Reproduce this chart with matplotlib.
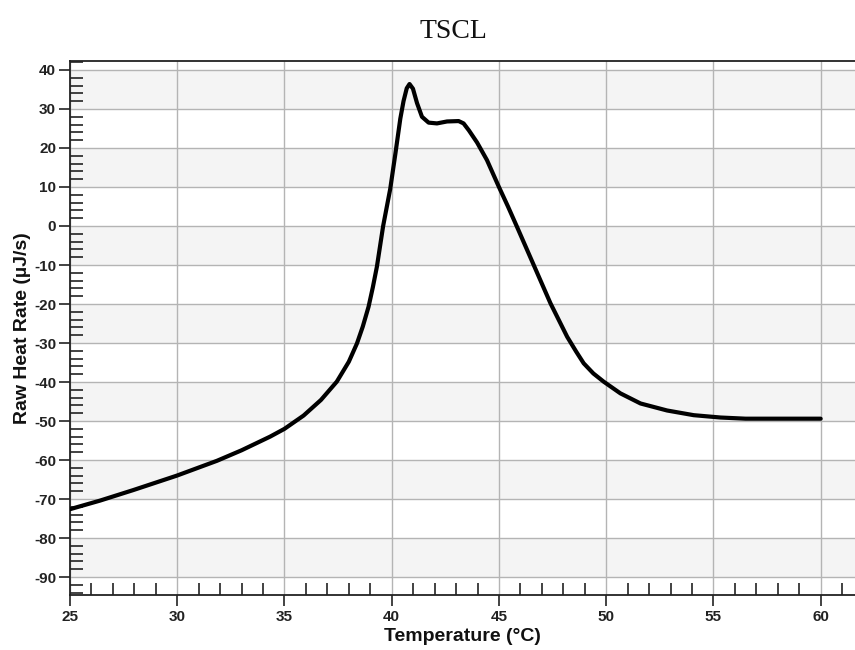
import matplotlib.pyplot as plt
from matplotlib.ticker import MultipleLocator

plt.rcParams["axes.unicode_minus"] = False

# temperature (°C) and raw heat rate (µJ/s)
temperature = [25.0, 26.4, 27.95, 29.98, 31.85, 33.0, 34.33, 35.0, 35.89, 36.7,
               37.44, 38.0, 38.38, 38.65, 38.92, 39.12, 39.31, 39.6, 39.93, 40.17,
               40.40, 40.55, 40.70, 40.83, 40.99, 41.18, 41.41, 41.72, 42.11, 42.58,
               43.12, 43.35, 43.6, 43.98, 44.44, 44.99, 45.42, 45.84, 46.62, 47.40,
               48.18, 48.6, 48.95, 49.4, 49.88, 50.66, 51.60, 52.84, 54.08, 55.33,
               56.5, 60.0]
heat_rate = [-72.6, -70.4, -67.7, -64.0, -60.2, -57.5, -54.0, -52.0, -48.6, -44.6,
             -39.9, -34.8, -30.1, -25.8, -20.7, -15.7, -10.4, 0.0, 9.5, 18.5,
             27.5, 32.0, 35.3, 36.4, 35.2, 31.5, 28.0, 26.5, 26.3, 26.8,
             26.9, 26.3, 24.5, 21.4, 16.9, 10.1, 5.0, -0.2, -10.0, -19.8,
             -28.4, -32.2, -35.2, -37.8, -39.9, -42.9, -45.5, -47.3, -48.5, -49.1,
             -49.4, -49.4]

grey_bands = [(30, 40), (10, 20), (-10, 0), (-30, -20), (-50, -40), (-70, -60), (-90, -80)]

fig = plt.figure(figsize=(8.55, 6.5), dpi=100)
ax = fig.add_axes([70 / 855, 1 - 595 / 650, 1 - 70 / 855, (595 - 61) / 650])

for lo, hi in grey_bands:
    ax.axhspan(lo, hi, color="#f4f4f4", lw=0, zorder=0)

ax.plot(temperature, heat_rate, color="black", lw=3.0, solid_capstyle="round",
        solid_joinstyle="round", zorder=3)

ax.set_xlim(25, 61.6)
ax.set_ylim(-94.6, 42.3)
ax.xaxis.set_major_locator(MultipleLocator(5))
ax.xaxis.set_minor_locator(MultipleLocator(1))
ax.yaxis.set_major_locator(MultipleLocator(10))
ax.yaxis.set_minor_locator(MultipleLocator(2))
ax.grid(True, which="major", color="#b4b4b4", lw=1.0, zorder=1)
ax.set_axisbelow(True)

ax.tick_params(which="major", direction="out", length=8, width=1.2, color="#222222",
               labelsize=11, labelcolor="#222222")
ax.tick_params(which="minor", direction="in", length=9, width=1.2, color="#222222")
ax.tick_params(axis="x", which="major", pad=3)
ax.tick_params(axis="y", which="major", pad=2)
for lab in ax.get_xticklabels() + ax.get_yticklabels():
    lab.set_fontweight("bold")
    lab.set_family("Liberation Sans")

for side in ("left", "bottom", "top"):
    ax.spines[side].set_linewidth(1.3)
    ax.spines[side].set_color("#222222")
ax.spines["right"].set_visible(False)

ax.set_xlabel("Temperature (°C)", fontsize=14, fontweight="bold", family="Liberation Sans",
              color="#111111", labelpad=3)
ax.set_ylabel("Raw Heat Rate (µJ/s)", fontsize=14, fontweight="bold", family="Liberation Sans",
              color="#111111", labelpad=2)

fig.text(453 / 855, 1 - 31 / 650, "TSCL", ha="center", va="center", fontsize=20,
         family="Liberation Serif", color="#111111")

fig.savefig("out.png", dpi=100)
